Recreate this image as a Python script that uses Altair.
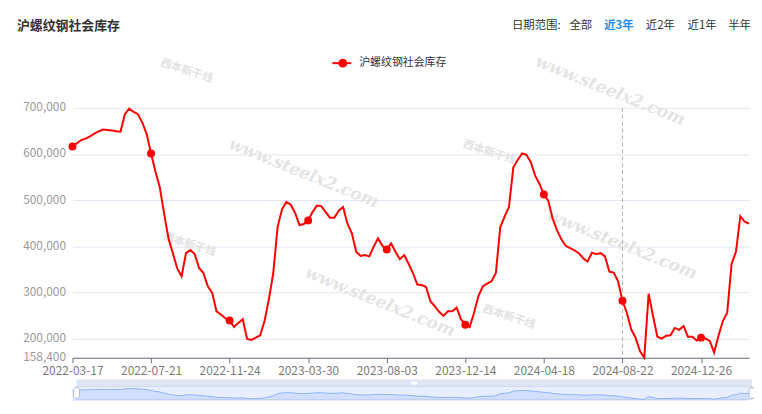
import altair as alt
import pandas as pd

# ---------------- data ----------------
# weekly dates; the National Day week 2023-10-05 has no release
missing_week = "2023-10-05"
dates = [d.strftime("%Y-%m-%d") for d in pd.date_range("2022-03-17", "2025-03-13", freq="7D")]
dates = [d for d in dates if d != missing_week]
values = [
    616000, 623000, 630000, 633000, 638000, 644000, 649000, 653000, 652000, 651000,
    649000, 648000, 686000, 698000, 691000, 686000, 668000, 643000, 601000, 562000,
    528000, 470000, 417000, 385000, 352000, 335000, 385000, 392000, 383000, 353000,
    342000, 313000, 299000, 259000, 252000, 244000, 239000, 225000, 234000, 242000,
    199000, 197000, 202000, 207000, 238000, 285000, 342000, 442000, 480000, 496000,
    490000, 472000, 446000, 448000, 456000, 474000, 488000, 487000, 474000, 462000,
    462000, 477000, 485000, 449000, 428000, 388000, 379000, 381000, 378000, 399000,
    417000, 401000, 393000, 406000, 388000, 372000, 381000, 362000, 342000, 317000,
    316000, 312000, 281000, 270000, 258000, 249000, 259000, 259000, 267000, 242000,
    230000, 225000, 256000, 292000, 313000, 319000, 324000, 342000, 441000, 464000,
    485000, 571000, 587000, 601000, 598000, 582000, 553000, 535000, 512000, 499000,
    460000, 435000, 415000, 401000, 396000, 391000, 385000, 374000, 367000, 386000,
    383000, 385000, 378000, 345000, 343000, 324000, 282000, 256000, 220000, 202000,
    173000, 158400, 297000, 249000, 204000, 200000, 206000, 207000, 223000, 219000,
    227000, 204000, 204000, 196000, 202000, 200000, 195000, 170000, 206000, 238000,
    256000, 362000, 388000, 465000, 453000, 449000,
]
label_dates = ["2022-03-17", "2022-07-21", "2022-11-24", "2023-03-30", "2023-08-03",
               "2023-12-14", "2024-04-18", "2024-08-22", "2024-12-26"]
y_ticks = [158400, 200000, 300000, 400000, 500000, 600000, 700000]
y_min, y_max = 158400, 700000
series_name = "沪螺纹钢社会库存"
title_text = "沪螺纹钢社会库存"
range_prefix = "日期范围:"
range_labels = ["全部", "近3年", "近2年", "近1年", "半年"]
range_active = "近3年"
pointer_date = "2024-08-22"
watermark_url = "www.steelx2.com"
watermark_logo = "西本新干线"

df = pd.DataFrame({"date": dates, "value": values})

W, H = 682, 252
FONT = "Noto Sans CJK SC"
RED = "#ff0000"
one = pd.DataFrame({"a": [0]})


def txt(text, x, y, size=12, color="#333333", align="left", weight="normal",
        angle=0, font=FONT, style="normal"):
    return alt.Chart(one).mark_text(
        text=text, align=align, baseline="middle", fontSize=size, color=color,
        fontWeight=weight, font=font, angle=angle, fontStyle=style,
    ).encode(x=alt.value(x), y=alt.value(y))


def box(x, x2, y, y2, **kw):
    return alt.Chart(one).mark_rect(**kw).encode(
        x=alt.value(x), x2=alt.value(x2), y=alt.value(y), y2=alt.value(y2))


x_enc = alt.X(
    "date:O",
    scale=alt.Scale(type="point", padding=0),
    axis=alt.Axis(
        values=label_dates, labelAngle=0, title=None, labelOverlap=False,
        domainColor="#6E7079", tickColor="#6E7079", tickSize=5,
        labelColor="#7a7a7a", labelFontSize=12, labelFont=FONT, labelPadding=3,
        grid=False,
    ),
)
y_scale = alt.Scale(domain=[y_min, y_max], nice=False, zero=False)
y_enc = alt.Y(
    "value:Q", scale=y_scale,
    axis=alt.Axis(
        values=y_ticks, format=",d", title=None, domain=False, ticks=False,
        labelColor="#9a9a9a", labelFontSize=12, labelFont=FONT, labelPadding=7,
        labelOffset=-1, gridColor="#E0E6F1", labelOverlap=False,
    ),
)

base = alt.Chart(df)

# watermarks (behind everything)
marks_bg = []
for (wx, wy) in [(233, 66), (542, -17), (310, 196), (554, 138)]:
    marks_bg.append(txt(watermark_url, wx, wy, size=17, color="#e4e4e4", align="center",
                        weight="bold", angle=22, font="DejaVu Serif", style="italic"))
for (lx, ly) in [(115, -37), (118, 138), (420, 45), (440, 211)]:
    marks_bg.append(txt(watermark_logo, lx, ly, size=11, color="#e2e2e2", align="center",
                        weight="bold", angle=18))

line = base.mark_line(color=RED, strokeWidth=2).encode(x=x_enc, y=y_enc)
dots = base.mark_circle(color=RED, size=64, opacity=1).encode(
    x="date:O", y=alt.Y("value:Q", scale=y_scale)
).transform_filter(alt.FieldOneOfPredicate(field="date", oneOf=label_dates))
pointer = base.mark_rule(color="#b0b0b0", strokeDash=[4, 3], strokeWidth=1).encode(
    x="date:O"
).transform_filter(alt.FieldEqualPredicate(field="date", equal=pointer_date))

main = alt.layer(line, pointer, dots)

# data-zoom slider (below the plot)
SX0, SX1 = 4, 685
ST, SM, SB = 274, 281, 294
slider_parts = [
    box(SX0, SX1, SM, SB, color="#e7efff", stroke="#d2dbee", strokeWidth=1),
    box(SX0, SX1, ST, SM, color="#D2DBEE", opacity=0.75),
    box((SX0 + SX1) / 2 - 3, (SX0 + SX1) / 2 + 3, ST + 2, ST + 5, color="#ffffff"),
]
mini_y = alt.Y("value:Q", scale=alt.Scale(domain=[y_min, y_max], nice=False, zero=False,
                                          range=[SB, SM + 2]), axis=None)
mini_area = base.mark_area(color="#8fb0f7", opacity=0.25).encode(
    x="date:O", y=mini_y, y2=alt.value(SB))
mini_line = base.mark_line(color="#8fb0f7", strokeWidth=1).encode(x="date:O", y=mini_y)
mini = alt.layer(mini_area, mini_line)
handles = [
    box(SX0 - 3, SX0 + 3, SM + 1, SB - 1, color="#ffffff", stroke="#ACB8D1",
        strokeWidth=1, cornerRadius=3),
    box(SX1 - 3, SX1 + 3, SM + 1, SB - 1, color="#ffffff", stroke="#ACB8D1",
        strokeWidth=1, cornerRadius=3),
]

# header texts
header = [txt(title_text, -56, -82, size=13, color="#333333", weight="bold")]
header.append(txt(range_prefix, 443, -82, size=11.5, color="#333333"))
for lbl, lx in zip(range_labels, [501, 536, 578, 620, 661]):
    header.append(txt(lbl, lx, -82, size=11.5,
                      color="#1e88e5" if lbl == range_active else "#333333",
                      weight="bold" if lbl == range_active else "normal"))
# legend
legend = [
    alt.Chart(one).mark_rule(color=RED, strokeWidth=2).encode(
        x=alt.value(262), x2=alt.value(281), y=alt.value(-45)),
    alt.Chart(one).mark_circle(color=RED, size=80, opacity=1).encode(
        x=alt.value(272.5), y=alt.value(-45)),
    txt(series_name, 289, -45, size=11, color="#333333"),
]

chart = alt.layer(
    *marks_bg, main, *slider_parts, mini, *handles, *header, *legend
).resolve_scale(y="independent").properties(
    width=W, height=H,
    padding={"left": 65, "top": 99, "right": 5, "bottom": 42},
    autosize=alt.AutoSizeParams(type="none"),
    background="#ffffff",
).configure_view(stroke=None)

chart.save("out.html", embed_options={"renderer": "svg", "actions": False})
